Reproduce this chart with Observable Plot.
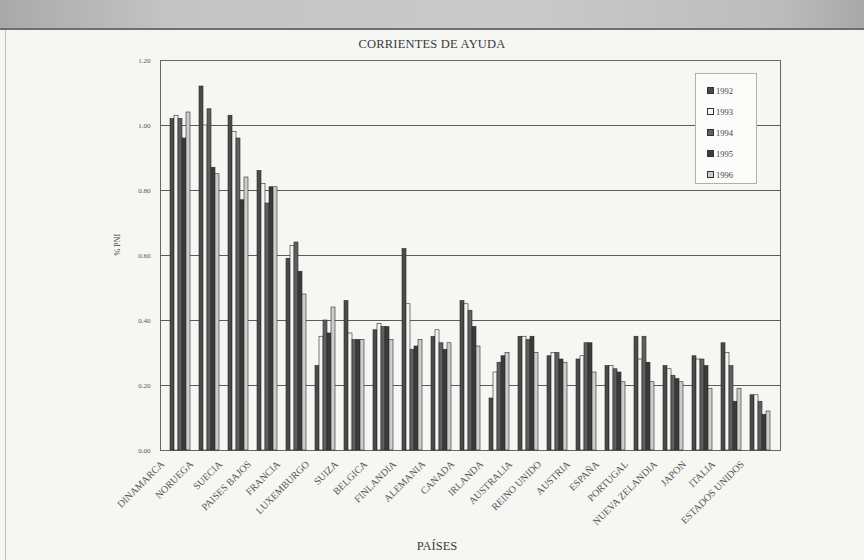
<!DOCTYPE html>
<html>
<head>
<meta charset="utf-8">
<script src="https://cdn.jsdelivr.net/npm/d3@7"></script>
<script src="https://cdn.jsdelivr.net/npm/@observablehq/plot@0.6"></script>
<style>
  html, body { margin: 0; padding: 0; background: #f5f5f2; }
  #page { position: relative; width: 864px; height: 560px; overflow: hidden; background: #f6f6f3; font-family: "Liberation Serif", "DejaVu Serif", serif; color: #333; }
  #banner { position: absolute; left: 0; top: 0; width: 864px; height: 28px;
            background: linear-gradient(to right, #a9a9a9, #c4c4c4 20%, #cacaca 60%, #bcbcbc 90%, #a8a8a8);
            border-bottom: 2px solid #6e6e6e; }
  #edge { position: absolute; left: 5px; top: 30px; width: 1px; height: 530px; background: #bdbdbd; }
  #title { position: absolute; left: 0; width: 864px; top: 37px; text-align: center; font-size: 12.5px; letter-spacing: 0.2px; color: #3a3a3a; }
  #xlabel { position: absolute; left: 0; width: 874px; top: 539px; text-align: center; font-size: 12.5px; color: #3a3a3a; }
  .layer { position: absolute; left: 0; top: 0; }
  #legend { position: absolute; left: 695px; top: 73px; width: 62px; height: 111px; background: #fbfbfa; border: 1px solid #b0b0b0; box-sizing: border-box; padding-top: 6px; }
  .item { height: 21px; display: flex; align-items: center; font-size: 8.5px; color: #444; padding-left: 11px; }
  .sw { width: 5px; height: 5px; border: 0.8px solid #333; margin-right: 2px; }
</style>
</head>
<body>
<div id="page">
  <div id="banner"></div>
  <div id="edge"></div>
  <div id="grid" class="layer"></div>
  <div id="bars" class="layer"></div>
  <div id="title">CORRIENTES DE AYUDA</div>
  <div id="xlabel">PAÍSES</div>
  <div id="legend"></div>
</div>
<script>
// Official development aid as % of GNP (PNI), donor countries, 1992–1996
const countries = ["DINAMARCA", "NORUEGA", "SUECIA", "PAISES BAJOS", "FRANCIA", "LUXEMBURGO", "SUIZA",
  "BELGICA", "FINLANDIA", "ALEMANIA", "CANADA", "IRLANDA", "AUSTRALIA", "REINO UNIDO", "AUSTRIA",
  "ESPAÑA", "PORTUGAL", "NUEVA ZELANDIA", "JAPON", "ITALIA", "ESTADOS UNIDOS"];
const years = ["1992", "1993", "1994", "1995", "1996"];
const v1992 = [1.02, 1.12, 1.03, 0.86, 0.59, 0.26, 0.46, 0.37, 0.62, 0.35, 0.46, 0.16, 0.35, 0.29, 0.28, 0.26, 0.35, 0.26, 0.29, 0.33, 0.17];
const v1993 = [1.03, 1.00, 0.98, 0.82, 0.63, 0.35, 0.36, 0.39, 0.45, 0.37, 0.45, 0.24, 0.35, 0.30, 0.29, 0.26, 0.28, 0.25, 0.28, 0.30, 0.17];
const v1994 = [1.02, 1.05, 0.96, 0.76, 0.64, 0.40, 0.34, 0.38, 0.31, 0.33, 0.43, 0.27, 0.34, 0.30, 0.33, 0.25, 0.35, 0.23, 0.28, 0.26, 0.15];
const v1995 = [0.96, 0.87, 0.77, 0.81, 0.55, 0.36, 0.34, 0.38, 0.32, 0.31, 0.38, 0.29, 0.35, 0.28, 0.33, 0.24, 0.27, 0.22, 0.26, 0.15, 0.11];
const v1996 = [1.04, 0.85, 0.84, 0.81, 0.48, 0.44, 0.34, 0.34, 0.34, 0.33, 0.32, 0.30, 0.30, 0.27, 0.24, 0.21, 0.21, 0.21, 0.19, 0.19, 0.12];
const yTicks = [0, 0.2, 0.4, 0.6, 0.8, 1.0, 1.2];
const yearColors = ["#4a4a4a", "#f4f4f2", "#5f5f5f", "#3b3b3b", "#cdcdcd"];

const series = [v1992, v1993, v1994, v1995, v1996];
const rows = [];
countries.forEach((c, i) => years.forEach((y, j) => rows.push({country: c, year: y, value: series[j][i]})));

// shared layout so the two layers line up exactly
const layout = {
  width: 864,
  height: 560,
  marginTop: 60,
  marginBottom: 110,
  marginLeft: 160,
  marginRight: 84,
  style: {background: "transparent", fontFamily: "'Liberation Serif', serif", color: "#444"},
  y: {domain: [0, 1.2], label: null}
};

// back layer: frame, horizontal gridlines and the value axis
const grid = Plot.plot({
  ...layout,
  marks: [
    Plot.ruleY(yTicks, {stroke: "#5c5c5c", strokeWidth: 1}),
    Plot.axisY({ticks: yTicks, tickFormat: d3.format(".2f"), tickSize: 0, tickPadding: 10, fontSize: 7, fill: "#555", label: null}),
    Plot.text(["% PNI"], {frameAnchor: "left", rotate: -90, dx: -43, fontSize: 8, fill: "#444"}),
    Plot.frame({stroke: "#666"})
  ]
});
document.getElementById("grid").appendChild(grid);

// front layer: bars grouped by country, one bar per year
const bars = Plot.plot({
  ...layout,
  fx: {domain: countries, paddingInner: 0.16, paddingOuter: 0.06, label: null},
  x: {domain: years, padding: 0, axis: null},
  color: {domain: years, range: yearColors},
  marks: [
    Plot.barY(rows, {fx: "country", x: "year", y: "value", fill: "year", stroke: "#2a2a2a", strokeWidth: 0.6}),
    Plot.axisFx({anchor: "bottom", tickRotate: -45, tickSize: 0, tickPadding: 12, dx: -18, fontSize: 10, fill: "#555", label: null})
  ]
});
bars.querySelectorAll("g[aria-label='y-axis tick'], g[aria-label='y-axis tick label']").forEach(g => g.remove());
document.getElementById("bars").appendChild(bars);

// legend box inside the plot area
const legend = document.getElementById("legend");
years.forEach((y, j) => {
  const item = document.createElement("div");
  item.className = "item";
  const sw = document.createElement("span");
  sw.className = "sw";
  sw.style.background = yearColors[j];
  item.appendChild(sw);
  item.appendChild(document.createTextNode(y));
  legend.appendChild(item);
});
</script>
</body>
</html>
